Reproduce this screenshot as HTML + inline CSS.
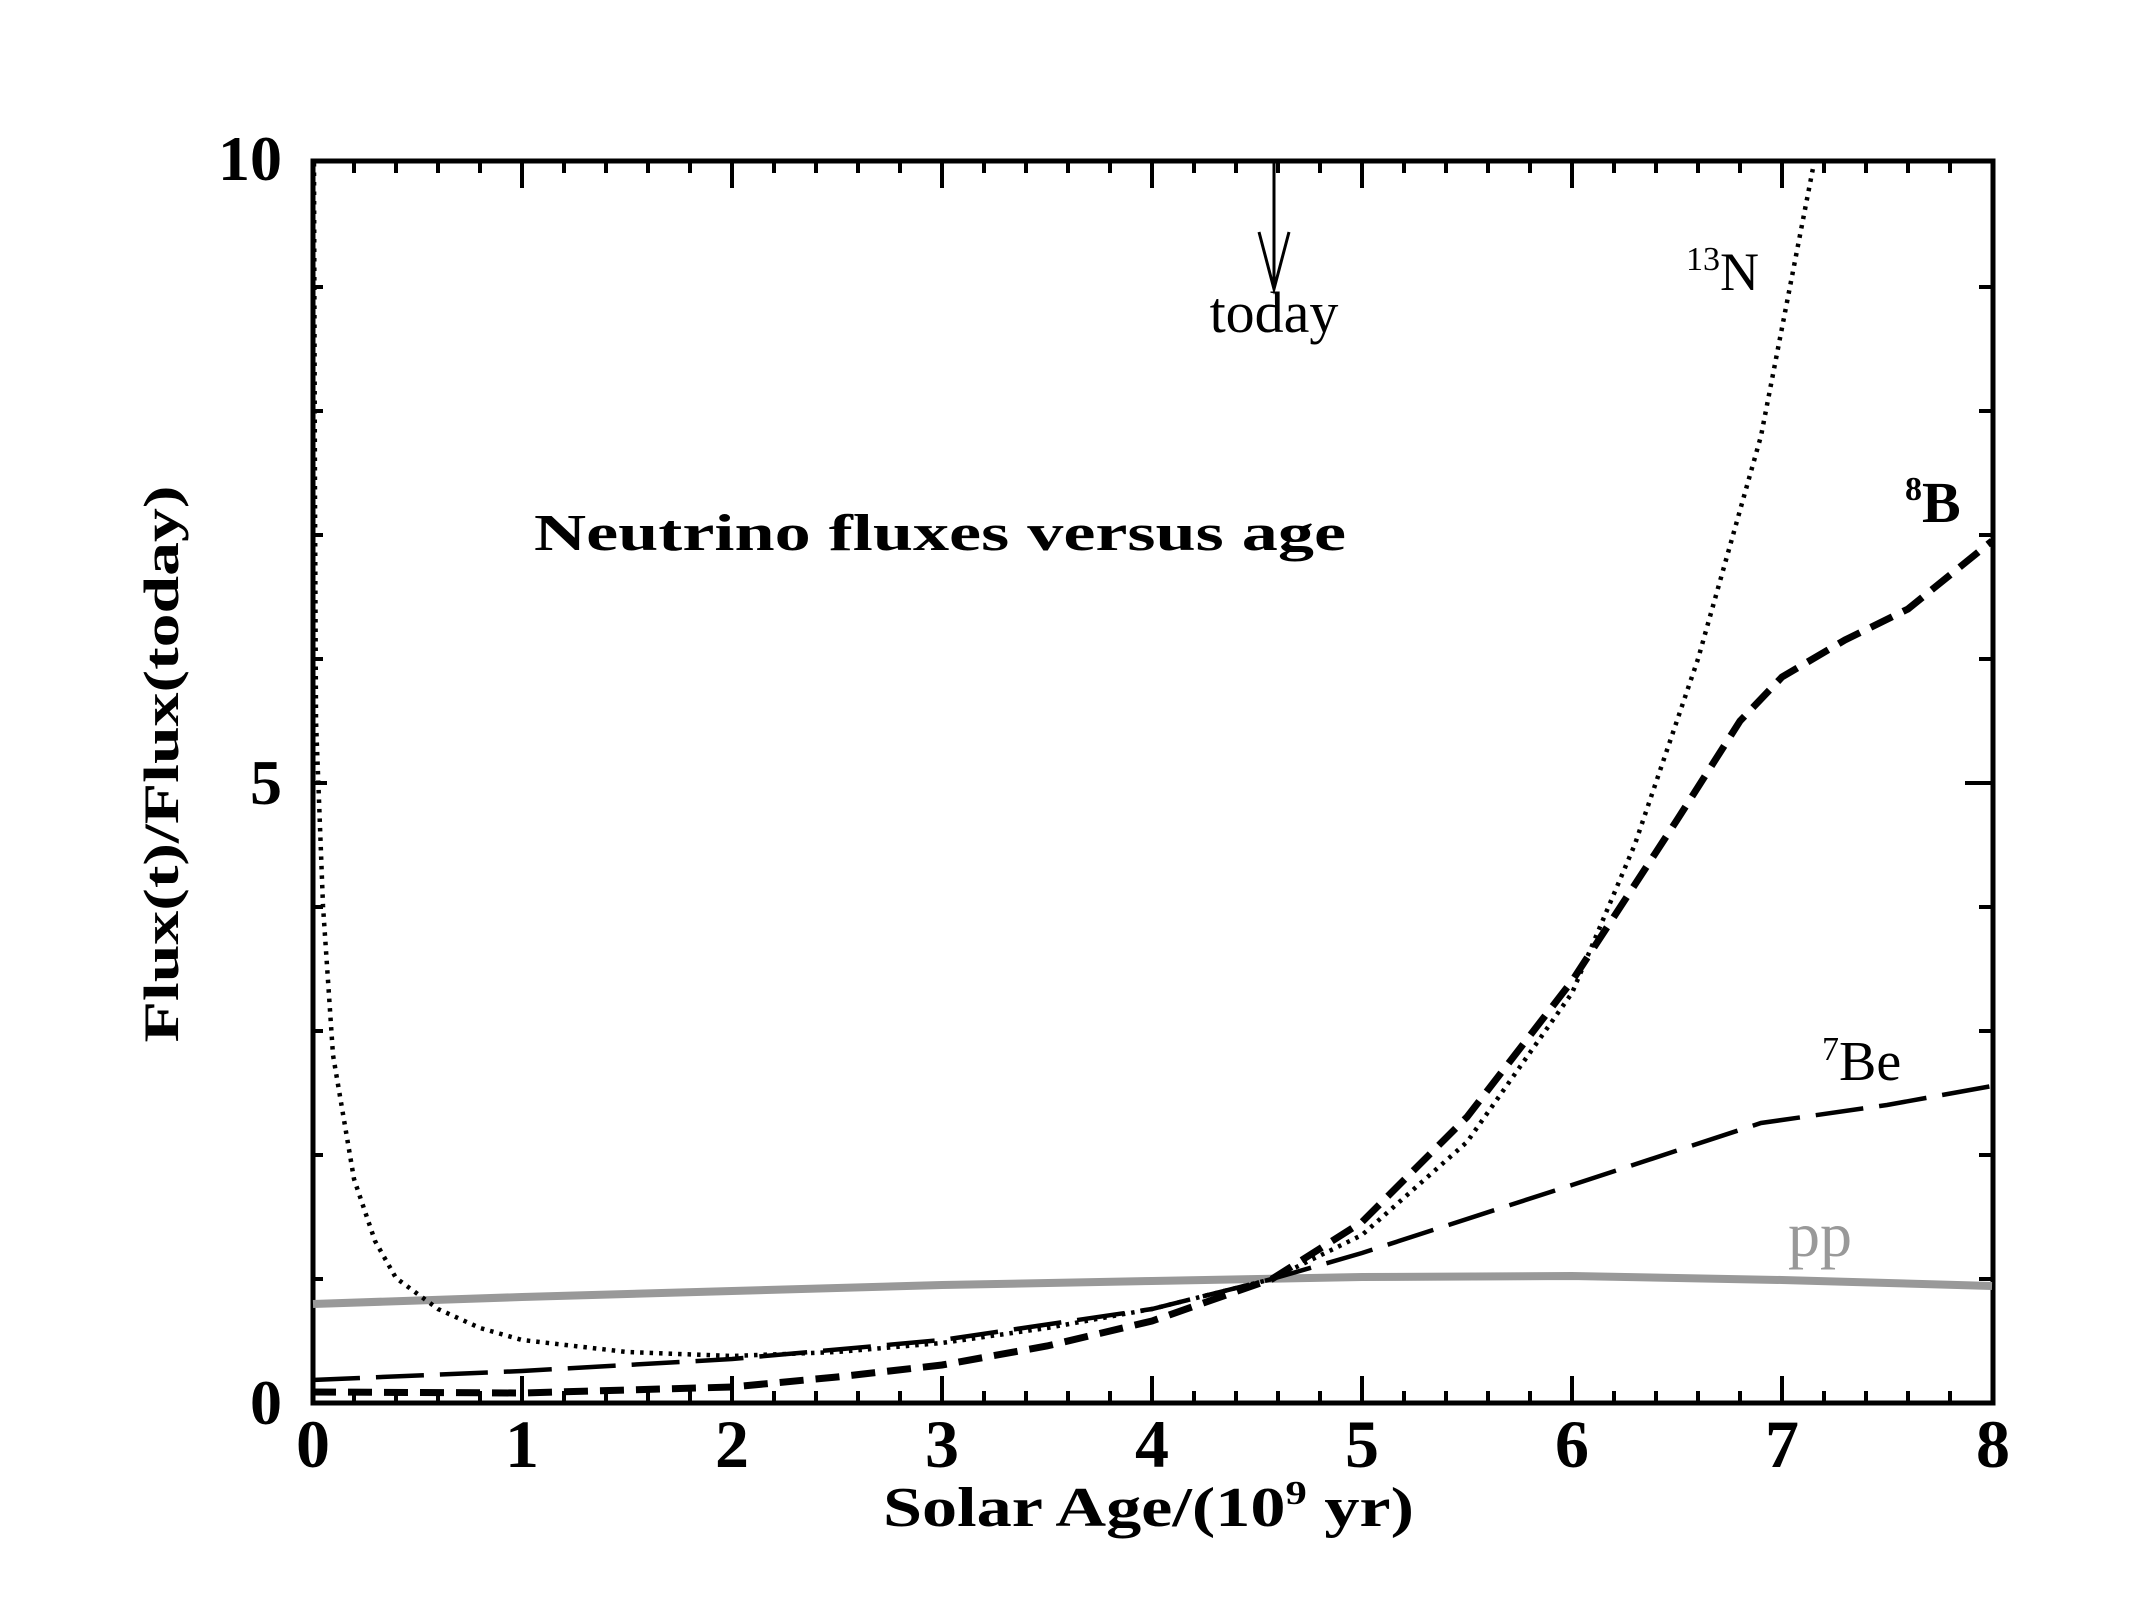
<!DOCTYPE html>
<html><head><meta charset="utf-8"><style>
html,body{margin:0;padding:0;background:#fff;}
svg{display:block;}
text{font-family:"Liberation Serif",serif;fill:#000;}
</style></head><body>
<svg width="2134" height="1600" viewBox="0 0 2134 1600" xmlns="http://www.w3.org/2000/svg">
<g stroke="#000" stroke-width="4" fill="none">
<path d="M354,1403v-12M396,1403v-12M438,1403v-12M480,1403v-12M564,1403v-12M606,1403v-12M648,1403v-12M690,1403v-12M774,1403v-12M816,1403v-12M858,1403v-12M900,1403v-12M984,1403v-12M1026,1403v-12M1068,1403v-12M1110,1403v-12M1194,1403v-12M1236,1403v-12M1278,1403v-12M1320,1403v-12M1404,1403v-12M1446,1403v-12M1488,1403v-12M1530,1403v-12M1614,1403v-12M1656,1403v-12M1698,1403v-12M1740,1403v-12M1824,1403v-12M1866,1403v-12M1908,1403v-12M1950,1403v-12"/>
<path d="M354,161v12M396,161v12M438,161v12M480,161v12M564,161v12M606,161v12M648,161v12M690,161v12M774,161v12M816,161v12M858,161v12M900,161v12M984,161v12M1026,161v12M1068,161v12M1110,161v12M1194,161v12M1236,161v12M1278,161v12M1320,161v12M1404,161v12M1446,161v12M1488,161v12M1530,161v12M1614,161v12M1656,161v12M1698,161v12M1740,161v12M1824,161v12M1866,161v12M1908,161v12M1950,161v12"/>
<path d="M522,1403v-27M732,1403v-27M942,1403v-27M1152,1403v-27M1362,1403v-27M1572,1403v-27M1782,1403v-27M522,161v27M732,161v27M942,161v27M1152,161v27M1362,161v27M1572,161v27M1782,161v27"/>
<path d="M1993,1279h-14M1993,1155h-14M1993,1031h-14M1993,907h-14M1993,783h-28M1993,659h-14M1993,535h-14M1993,411h-14M1993,287h-14"/>
<path d="M313,1279h10M313,1155h10M313,1031h10M313,907h10M313,783h14M313,659h10M313,535h10M313,411h10M313,287h10"/>
<rect x="313" y="161" width="1680" height="1242" stroke-width="5"/>
</g>
<polyline fill="none" stroke="#999" stroke-width="8" points="313,1304 522,1297 732,1291 942,1285 1152,1281 1362,1277 1572,1276 1782,1280 1992,1286"/>
<polyline fill="none" stroke="#000" stroke-width="4.5" stroke-dasharray="3.5 6" points="314,163 315,500 316,721 323,906 333,1055 354,1179 375,1241 396,1278 438,1309 480,1328 522,1340 627,1352 732,1356 837,1352 942,1343 1047,1328 1152,1309 1272,1279 1362,1235 1467,1142 1572,993 1635,844 1698,659 1761,436 1814,163"/>
<polyline fill="none" stroke="#000" stroke-width="7" stroke-dasharray="24 12" points="312,1392 522,1393 732,1387 837,1377 942,1365 1047,1346 1152,1321 1272,1279 1362,1222 1467,1117 1572,981 1677,820 1740,721 1782,677 1845,640 1908,609 1992,541"/>
<polyline fill="none" stroke="#000" stroke-width="4.5" stroke-dasharray="48 16" points="312,1380 522,1371 732,1359 942,1340 1152,1309 1272,1279 1362,1253 1572,1185 1761,1123 1887,1105 1992,1086"/>
<g stroke="#000" stroke-width="3" fill="none">
<path d="M1274,163V289M1259,232L1274,289L1289,232"/>
</g>
<text x="1274" y="332" font-size="58" text-anchor="middle">today</text>
<text x="1686" y="290" font-size="54"><tspan font-size="34" dy="-20">13</tspan><tspan dy="20">N</tspan></text>
<text x="1905" y="522" font-size="58" font-weight="bold"><tspan font-size="34" dy="-22">8</tspan><tspan dy="22">B</tspan></text>
<text x="1822" y="1080" font-size="56"><tspan font-size="34" dy="-20">7</tspan><tspan dy="20">Be</tspan></text>
<text x="1788" y="1256" font-size="64" style="fill:#999">pp</text>
<text x="534" y="550" font-size="52" font-weight="bold" textLength="812" lengthAdjust="spacingAndGlyphs">Neutrino fluxes versus age</text>
<g font-size="68" font-weight="bold" text-anchor="middle">
<text x="313" y="1467">0</text><text x="522" y="1467">1</text><text x="732" y="1467">2</text><text x="942" y="1467">3</text><text x="1152" y="1467">4</text><text x="1362" y="1467">5</text><text x="1572" y="1467">6</text><text x="1782" y="1467">7</text><text x="1993" y="1467">8</text>
</g>
<g font-size="64" font-weight="bold" text-anchor="end">
<text x="282" y="180">10</text><text x="282" y="804">5</text><text x="282" y="1424">0</text>
</g>
<text x="883" y="1526" font-size="56" font-weight="bold" textLength="531" lengthAdjust="spacingAndGlyphs">Solar Age/(10<tspan font-size="34" dy="-22">9</tspan><tspan dy="22"> yr)</tspan></text>
<text transform="translate(178,764) rotate(-90)" font-size="50" font-weight="bold" text-anchor="middle" textLength="557" lengthAdjust="spacingAndGlyphs">Flux(t)/Flux(today)</text>
</svg>
</body></html>
